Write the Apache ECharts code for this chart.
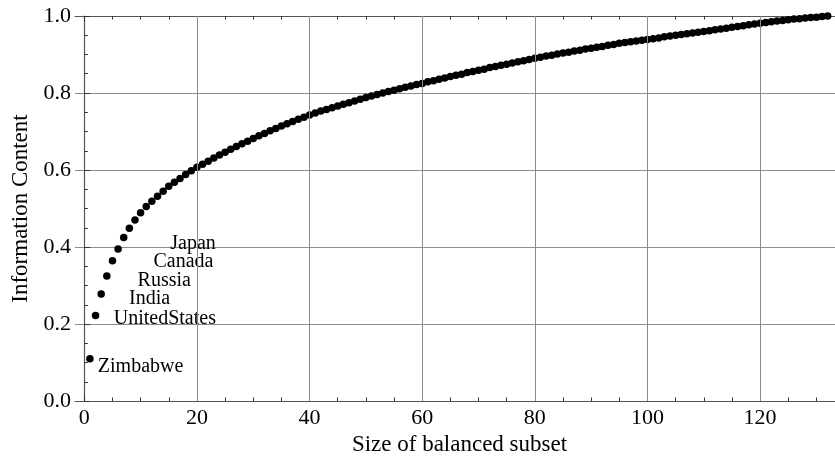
<!DOCTYPE html>
<html>
<head>
<meta charset="utf-8">
<script src="https://cdn.jsdelivr.net/npm/echarts@6/dist/echarts.min.js"></script>
<style>
  html, body { margin: 0; padding: 0; background: #fff; }
  #main { width: 835px; height: 462px; }
</style>
</head>
<body>
<div id="main"></div>
<script>
// information content for subset sizes 1, 2, 3, ...
var infoContent = [
  0.110, 0.222, 0.278, 0.325, 0.364, 0.395, 0.425, 0.449, 0.470, 0.489,
  0.505, 0.519, 0.532, 0.545, 0.558, 0.568, 0.578, 0.588, 0.598, 0.607,
  0.615, 0.623, 0.631, 0.639, 0.646, 0.654, 0.661, 0.668, 0.675, 0.682,
  0.689, 0.695, 0.702, 0.708, 0.714, 0.720, 0.726, 0.732, 0.737, 0.743,
  0.748, 0.753, 0.757, 0.762, 0.766, 0.771, 0.775, 0.779, 0.784, 0.788,
  0.792, 0.796, 0.800, 0.804, 0.807, 0.811, 0.815, 0.818, 0.822, 0.825,
  0.829, 0.832, 0.836, 0.839, 0.843, 0.846, 0.849, 0.853, 0.856, 0.859,
  0.862, 0.866, 0.869, 0.872, 0.875, 0.878, 0.881, 0.884, 0.887, 0.890,
  0.893, 0.896, 0.898, 0.901, 0.904, 0.906, 0.909, 0.911, 0.914, 0.916,
  0.919, 0.921, 0.924, 0.926, 0.929, 0.931, 0.933, 0.935, 0.937, 0.939,
  0.941, 0.943, 0.946, 0.948, 0.950, 0.952, 0.954, 0.956, 0.958, 0.960,
  0.962, 0.964, 0.966, 0.968, 0.971, 0.973, 0.975, 0.977, 0.979, 0.981,
  0.983, 0.985, 0.987, 0.988, 0.990, 0.992, 0.993, 0.995, 0.996, 0.997,
  0.999, 1.000
];

// text annotations (data coordinates of the text centre)
var labelNames = ['Japan', 'Canada', 'Russia', 'India', 'UnitedStates', 'Zimbabwe'];
var labelX     = [19.3, 17.6, 14.2, 11.6, 14.3, 10.0];
var labelY     = [0.408, 0.361, 0.312, 0.266, 0.213, 0.089];

var xMajor = [0, 20, 40, 60, 80, 100, 120];
var xMinor = [5, 10, 15, 25, 30, 35, 45, 50, 55, 65, 70, 75, 85, 90, 95, 105, 110, 115, 125, 130];
var xGrid  = [20, 40, 60, 80, 100, 120];

var XMIN = -1.65, XMAX = 133.3;
var FONT = '"Liberation Serif", "Times New Roman", serif';
var frameColor = '#555';
var gridColor = '#8c8c8c';

var points = infoContent.map(function (v, i) { return [i + 1, v]; });
var labels = labelNames.map(function (n, i) { return { name: n, value: [labelX[i], labelY[i]] }; });

function xAxisDef(pos, ticks, len, withLabels) {
  return {
    type: 'value', position: pos, min: XMIN, max: XMAX,
    axisLine: { show: withLabels !== null, lineStyle: { color: frameColor, width: 1.2 } },
    axisTick: { show: true, inside: true, length: len, customValues: ticks,
                lineStyle: { color: '#333', width: 1 } },
    axisLabel: { show: !!withLabels, customValues: ticks, fontFamily: FONT, fontSize: 22,
                 color: '#000', margin: 6 },
    splitLine: { show: false }
  };
}

var xb = xAxisDef('bottom', xMajor, 6, true);
xb.name = 'Size of balanced subset';
xb.nameLocation = 'middle';
xb.nameGap = 32;
xb.nameTextStyle = { fontFamily: FONT, fontSize: 23, color: '#000', padding: [0, 0, 0, 9] };

var option = {
  backgroundColor: '#fff',
  animation: false,
  grid: { left: 75, right: 0, top: 16, bottom: 61 },
  xAxis: [
    xb,
    xAxisDef('bottom', xMinor, 3.5, null),
    xAxisDef('top', xMajor, 6, false),
    xAxisDef('top', xMinor, 3.5, null)
  ],
  yAxis: {
    type: 'value', min: 0, max: 1, interval: 0.2,
    name: 'Information Content', nameLocation: 'middle', nameGap: 42, nameRotate: 90,
    nameTextStyle: { fontFamily: FONT, fontSize: 23, color: '#000' },
    axisLine: { show: true, lineStyle: { color: frameColor, width: 1.2 } },
    axisTick: { show: true, inside: true, length: 6, lineStyle: { color: '#333' } },
    minorTick: { show: true, splitNumber: 4, length: 3.5, lineStyle: { color: '#333' } },
    axisLabel: { fontFamily: FONT, fontSize: 22, color: '#000', margin: 4,
                 formatter: function (v) { return v.toFixed(1); } },
    splitLine: { show: true, lineStyle: { color: gridColor, width: 1 } }
  },
  series: [
    {
      // vertical grid lines
      type: 'scatter', data: [], z: 1, silent: true,
      markLine: {
        silent: true, symbol: 'none', label: { show: false },
        lineStyle: { color: gridColor, width: 1, type: 'solid' },
        data: xGrid.map(function (v) { return { xAxis: v }; })
      }
    },
    {
      type: 'scatter', data: points, z: 3,
      symbol: 'circle', symbolSize: 7.5,
      itemStyle: { color: '#000', opacity: 1 }
    },
    {
      type: 'scatter', data: labels, z: 4, symbolSize: 0, silent: true,
      itemStyle: { opacity: 1 },
      label: {
        show: true, position: 'inside', formatter: '{b}',
        fontFamily: FONT, fontSize: 20, color: '#000'
      }
    }
  ]
};

var chart = echarts.init(document.getElementById('main'));
chart.setOption(option);
</script>
</body>
</html>
